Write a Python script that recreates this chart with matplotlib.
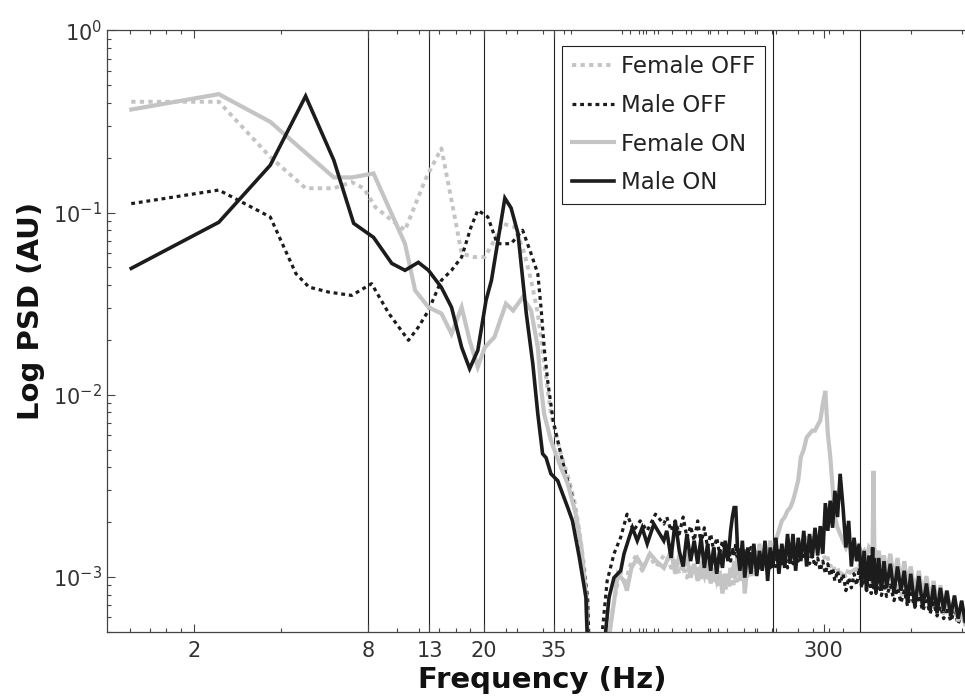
#!/usr/bin/env python3
"""Log PSD spectra for male/female, OFF/ON conditions with band boundary markers."""

import matplotlib

matplotlib.use("Agg")
import matplotlib.pyplot as plt
from matplotlib.ticker import FixedLocator, LogLocator, NullFormatter

OUTPUT_PATH = "out.png"

# ---- low-frequency part: (Hz, AU) ----
female_off_lo_f = [1.21, 2.43, 3.66, 4.85, 6.07, 7.0, 7.7, 8.46, 9.63, 10.7,
                   11.9, 12.7, 14.3, 15.1, 15.9, 16.8, 18.6, 20.2, 21.8, 23.3,
                   25.6, 27.7, 29.2, 30.8, 32.4, 34.2, 37.0, 39.6, 41.2, 42.9,
                   44.6, 45.8, 46.4, 48.8, 52.0, 54.7, 57.4, 59.3, 61.6, 64.0,
                   67.4, 70.7, 74.6, 79.1, 84.0]
female_off_lo = [0.406, 0.406, 0.202, 0.136, 0.136, 0.147, 0.136, 0.107, 0.0907, 0.080,
                 0.122, 0.157, 0.225, 0.144, 0.0946, 0.0595, 0.057, 0.057, 0.0704, 0.087,
                 0.0833, 0.0595, 0.0425, 0.028, 0.0148, 0.00785, 0.00473, 0.00337, 0.00262, 0.00179,
                 0.00112, 0.00068, 0.0003, 0.0001, 0.0002, 0.00053, 0.00084, 0.00108, 0.0009, 0.00114,
                 0.00131, 0.00108, 0.00131, 0.00114, 0.00131]

male_off_lo_f = [1.21, 2.43, 3.66, 4.49, 4.98, 5.83, 7.0, 8.2, 9.4, 11.0,
                 11.9, 12.9, 14.3, 15.5, 16.8, 18.1, 19.1, 20.7, 22.3, 24.9,
                 27.3, 29.2, 30.8, 31.6, 32.4, 33.3, 34.8, 37.0, 38.5, 40.6,
                 42.2, 43.9, 45.8, 47.0, 49.5, 51.5, 53.5, 56.5, 59.6, 62.7,
                 66.0, 69.6, 73.6, 78.6, 84.0]
male_off_lo = [0.112, 0.133, 0.0946, 0.0462, 0.039, 0.0366, 0.0351, 0.0407, 0.028, 0.0199,
               0.0235, 0.029, 0.0425, 0.0482, 0.057, 0.0833, 0.103, 0.0946, 0.0675, 0.0675,
               0.080, 0.0595, 0.0462, 0.0302, 0.0182, 0.012, 0.00721, 0.00473, 0.00367, 0.00273,
               0.00195, 0.00127, 0.00077, 0.0002, 0.0001, 0.000505, 0.00095, 0.00134, 0.00165, 0.00221,
               0.00179, 0.00203, 0.00179, 0.00221, 0.00195]

female_on_lo_f = [1.21, 2.43, 3.66, 6.07, 7.0, 8.33, 9.4, 10.7, 11.6, 12.9,
                  14.3, 15.5, 16.8, 17.9, 19.1, 20.2, 21.8, 23.9, 25.3, 27.3,
                  29.2, 30.8, 31.6, 32.4, 34.2, 37.0, 39.1, 41.7, 43.6, 45.2,
                  46.4, 48.8, 52.0, 54.7, 58.3, 61.2, 62.6, 64.9, 68.0, 71.4,
                  75.2, 79.1, 84.0]
female_on_lo = [0.368, 0.447, 0.315, 0.156, 0.156, 0.164, 0.107, 0.0675, 0.0374, 0.0302,
                0.0279, 0.0216, 0.0302, 0.0199, 0.0142, 0.0182, 0.0207, 0.0316, 0.029, 0.0343,
                0.029, 0.0182, 0.011, 0.00785, 0.0056, 0.0040, 0.00324, 0.00221, 0.00145, 0.00077,
                0.00023, 0.0001, 0.0002, 0.000505, 0.00104, 0.00095, 0.00084, 0.00112, 0.00127, 0.00112,
                0.00134, 0.00122, 0.00112]

male_on_lo_f = [1.21, 2.43, 3.66, 4.85, 6.07, 7.11, 8.33, 9.63, 10.7, 11.9,
                12.9, 14.3, 15.5, 16.8, 17.9, 19.1, 20.4, 21.3, 23.7, 24.9,
                26.3, 28.1, 29.6, 30.8, 32.0, 32.9, 34.2, 36.1, 39.1, 40.6,
                42.9, 45.2, 46.4, 48.8, 51.5, 52.9, 54.3, 56.5, 59.6, 61.2,
                63.7, 65.4, 68.0, 70.7, 73.6, 77.6, 84.0]
male_on_lo = [0.0494, 0.0885, 0.182, 0.436, 0.194, 0.0873, 0.0731, 0.0526, 0.0482, 0.0533,
              0.0482, 0.0388, 0.0302, 0.0182, 0.0139, 0.0175, 0.033, 0.0425, 0.120, 0.106,
              0.0769, 0.028, 0.0148, 0.00787, 0.00474, 0.00451, 0.00368, 0.00337, 0.0024, 0.00203,
              0.00127, 0.00077, 0.00023, 0.0001, 0.00023, 0.000505, 0.00077, 0.00099, 0.00108, 0.00134,
              0.00164, 0.00186, 0.00158, 0.00186, 0.00152, 0.00195, 0.00158]

# ---- high-frequency part: shared frequency grid (Hz), values in 1e-3 AU ----
hi_f = [86, 89, 92, 95, 98, 101, 104, 107, 110, 113,
        116, 119, 122, 125, 128, 131, 134, 137, 140, 143,
        145, 147, 149, 151, 154, 157, 160, 164, 168, 172,
        176, 180, 184, 188, 192, 196, 200, 205, 210, 215,
        220, 225, 230, 235, 240, 245, 250, 256, 262, 268,
        274, 280, 286, 292, 298, 304, 310, 316, 322, 328,
        335, 342, 350, 358, 366, 374, 382, 390, 398, 406,
        414, 422, 430, 438, 443, 446, 449, 455, 465, 475,
        485, 495, 510, 525, 540, 555, 570, 585, 600, 620,
        640, 660, 680, 700, 720, 740, 760, 780, 800, 825,
        850, 875, 900, 925]

female_off_hi = [1.31, 1.12, 1.27, 1.04, 1.22, 0.99, 1.18, 1.04, 1.14, 0.95,
                 1.12, 0.99, 1.08, 0.92, 1.04, 0.87, 1.01, 0.84, 0.99, 0.87,
                 1.04, 0.92, 1.08, 0.95, 1.12, 0.99, 1.14, 1.01, 1.18, 1.04,
                 1.22, 1.08, 1.27, 1.12, 1.31, 1.14, 1.34, 1.22, 1.39, 1.27,
                 1.45, 1.31, 1.52, 1.39, 1.58, 1.45, 1.64, 1.52, 1.72, 1.58,
                 1.64, 1.45, 1.52, 1.34, 1.39, 1.22, 1.27, 1.14, 1.18, 1.08,
                 1.12, 1.01, 1.08, 0.99, 1.12, 1.01, 1.14, 1.04, 1.18, 0.99,
                 1.12, 0.95, 1.08, 0.92, 1.04, 0.95, 1.01, 0.90, 1.04, 0.87,
                 0.99, 0.84, 0.95, 0.81, 0.92, 0.79, 0.90, 0.74, 0.87, 0.72,
                 0.84, 0.69, 0.79, 0.68, 0.74, 0.65, 0.72, 0.63, 0.69, 0.61,
                 0.65, 0.58, 0.62, 0.56]

male_off_hi = [2.13, 1.79, 2.03, 1.72, 2.13, 1.64, 1.90, 1.58, 2.03, 1.52,
               1.86, 1.45, 1.72, 1.39, 1.64, 1.34, 1.58, 1.27, 1.52, 1.22,
               1.45, 1.31, 1.52, 1.22, 1.45, 1.18, 1.39, 1.14, 1.45, 1.18,
               1.39, 1.12, 1.34, 1.14, 1.39, 1.12, 1.31, 1.14, 1.39, 1.18,
               1.34, 1.12, 1.31, 1.18, 1.39, 1.22, 1.45, 1.27, 1.39, 1.18,
               1.31, 1.14, 1.27, 1.08, 1.22, 1.04, 1.18, 1.01, 1.12, 0.95,
               1.08, 0.92, 1.04, 0.84, 0.99, 0.87, 1.04, 0.90, 1.12, 0.87,
               1.08, 0.84, 1.04, 0.81, 1.01, 0.87, 0.99, 0.81, 0.95, 0.79,
               0.92, 0.78, 0.90, 0.74, 0.87, 0.72, 0.84, 0.69, 0.81, 0.68,
               0.79, 0.65, 0.74, 0.63, 0.72, 0.61, 0.69, 0.59, 0.68, 0.57,
               0.65, 0.55, 0.63, 0.55]

female_on_hi = [1.22, 1.39, 1.04, 1.31, 1.12, 1.27, 0.99, 1.18, 0.95, 1.14,
                1.01, 1.22, 0.92, 1.12, 0.95, 1.08, 0.81, 1.04, 0.90, 1.12,
                0.99, 1.22, 1.08, 1.27, 0.95, 1.31, 0.81, 1.22, 1.01, 1.45,
                1.08, 1.52, 1.12, 1.45, 1.18, 1.58, 1.31, 1.58, 1.79, 2.03,
                2.13, 2.31, 2.40, 2.62, 2.97, 3.40, 4.53, 5.00, 5.83, 6.10,
                6.35, 6.35, 6.80, 7.21, 8.91, 10.5, 6.12, 4.60, 3.10, 2.14,
                1.86, 1.72, 1.58, 1.45, 1.58, 1.39, 1.52, 1.31, 1.45, 1.34,
                1.39, 1.27, 1.45, 1.39, 1.50, 3.82, 1.45, 1.22, 1.39, 1.14,
                1.31, 1.01, 1.34, 0.95, 1.27, 0.90, 1.22, 0.87, 1.14, 0.81,
                1.08, 0.79, 1.01, 0.74, 0.95, 0.69, 0.90, 0.65, 0.84, 0.63,
                0.74, 0.57, 0.69, 0.55]

male_on_hi = [1.79, 1.27, 2.03, 1.39, 1.14, 1.72, 1.22, 1.58, 1.18, 1.64,
              1.12, 1.52, 1.08, 1.45, 1.04, 1.39, 1.12, 1.58, 1.22, 1.79,
              2.13, 2.40, 2.40, 1.45, 1.08, 1.58, 0.99, 1.45, 1.04, 1.52,
              1.01, 1.39, 1.08, 1.58, 0.95, 1.45, 1.12, 1.64, 1.04, 1.52,
              1.12, 1.72, 1.18, 1.72, 1.08, 1.64, 1.22, 1.79, 1.14, 1.72,
              1.27, 1.86, 1.31, 1.90, 1.34, 2.54, 1.79, 2.62, 1.86, 2.97,
              2.13, 3.68, 2.40, 1.45, 2.03, 1.14, 1.64, 1.22, 1.52, 0.90,
              1.39, 0.84, 1.31, 0.95, 1.45, 0.92, 1.27, 0.81, 1.27, 0.84,
              1.22, 0.87, 1.18, 0.81, 1.14, 0.84, 1.08, 0.72, 1.04, 0.69,
              1.01, 0.68, 0.92, 0.65, 0.90, 0.63, 0.87, 0.65, 0.84, 0.61,
              0.79, 0.59, 0.74, 0.57]

series_labels = ["Female OFF", "Male OFF", "Female ON", "Male ON"]

band_edges_hz = [8, 13, 20, 35, 200, 400]
x_major_ticks = [2, 8, 13, 20, 35, 300]
x_minor_ticks = [1.2, 1.4, 1.6, 1.8, 4, 10, 12, 14, 16, 18, 24, 26, 32, 38, 40,
                 60, 64, 69, 71, 73, 78, 80, 90, 100, 104, 119, 121, 129, 139,
                 159, 174, 177, 199, 206, 244, 276, 314, 350, 600, 900]

GRAY = "#c4c4c4"
BLACK = "#1c1c1c"


def join(lo_f, lo_v, hi_v):
    freqs = list(lo_f) + list(hi_f)
    values = list(lo_v) + [v * 1e-3 for v in hi_v]
    return freqs, values


def main() -> int:
    plt.rcParams.update({"font.family": "DejaVu Sans"})
    fig = plt.figure(figsize=(9.65, 6.97), dpi=100)
    # axes right edge runs just past the cropped figure, as in the reference
    ax = fig.add_axes([107.3 / 965, 1 - 631.7 / 697, 867.6 / 965, 601.25 / 697])

    styles = [
        dict(color=GRAY, lw=2.8, dashes=(1.1, 1.1)),
        dict(color=BLACK, lw=2.3, dashes=(1.2, 1.2)),
        dict(color=GRAY, lw=3.0, ls="-"),
        dict(color=BLACK, lw=2.6, ls="-"),
    ]
    data = [
        join(female_off_lo_f, female_off_lo, female_off_hi),
        join(male_off_lo_f, male_off_lo, male_off_hi),
        join(female_on_lo_f, female_on_lo, female_on_hi),
        join(male_on_lo_f, male_on_lo, male_on_hi),
    ]
    for (freqs, values), label, style in zip(data, series_labels, styles):
        ax.plot(freqs, values, label=label, solid_joinstyle="miter",
                dash_capstyle="butt", **style)

    for edge in band_edges_hz:
        ax.axvline(edge, color="#222222", lw=0.8, zorder=0.5)

    ax.set_xscale("log")
    ax.set_yscale("log")
    ax.set_xlim(1, 1000)
    ax.set_ylim(5e-4, 1)

    ax.xaxis.set_major_locator(FixedLocator(x_major_ticks))
    ax.set_xticklabels([str(t) for t in x_major_ticks])
    ax.xaxis.set_minor_locator(FixedLocator(x_minor_ticks))
    ax.xaxis.set_minor_formatter(NullFormatter())
    ax.yaxis.set_major_locator(LogLocator(base=10, numticks=10))
    ax.yaxis.set_minor_locator(LogLocator(base=10, subs=range(2, 10), numticks=20))
    ax.yaxis.set_minor_formatter(NullFormatter())

    ax.tick_params(which="both", direction="in", top=True, right=True,
                   color="#444444", width=0.8, labelcolor="#333333")
    ax.tick_params(which="major", length=6, labelsize=15)
    ax.tick_params(which="minor", length=3)
    ax.tick_params(axis="x", which="major", pad=7)
    ax.tick_params(axis="y", which="major", pad=4)
    for spine in ax.spines.values():
        spine.set_color("#444444")
        spine.set_linewidth(0.9)

    legend = ax.legend(
        loc="upper left",
        bbox_to_anchor=(0.524, 0.9746),
        borderaxespad=0,
        fontsize=16.5,
        handlelength=1.85,
        handletextpad=0.3,
        borderpad=0.42,
        labelspacing=0.68,
        fancybox=False,
        framealpha=1,
        edgecolor="#222222",
    )
    legend.get_frame().set_linewidth(0.8)
    for text in legend.get_texts():
        text.set_color("#222222")

    fig.text(31 / 965, 1 - 311 / 697, "Log PSD (AU)", rotation=90, ha="center",
             va="center", fontsize=21, fontweight="bold", color="#111111")
    fig.text(542 / 965, 1 - 688 / 697, "Frequency (Hz)", ha="center",
             va="baseline", fontsize=21, fontweight="bold", color="#111111")

    fig.savefig(OUTPUT_PATH, dpi=100)
    plt.close(fig)
    return 0


if __name__ == "__main__":
    raise SystemExit(main())
